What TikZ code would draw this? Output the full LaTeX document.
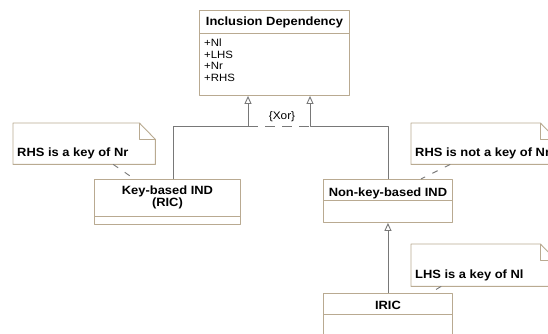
\documentclass[tikz,border=0pt]{standalone}
\usepackage{fontspec}
\setmainfont{Liberation Sans}[FakeStretch=1.08]
\usetikzlibrary{arrows.meta}
\definecolor{boxline}{RGB}{185,170,145}
\definecolor{connline}{RGB}{120,120,120}
\begin{document}
\begin{tikzpicture}[x=1bp, y=-1bp, line join=round,
		cls/.style={draw=boxline, fill=white, line width=0.9bp, inner sep=0pt, anchor=north west},
		hd/.style={font=\fontsize{12}{10}\selectfont\bfseries, align=center, inner sep=0pt},
		attr/.style={font=\fontsize{10.6}{11}\selectfont, anchor=base west, inner sep=0pt},
		notetxt/.style={font=\fontsize{12}{13}\selectfont\bfseries, anchor=base west, inner sep=0pt},
		noteline/.style={draw=boxline, fill=white, line width=0.9bp},
		gen/.style={draw=connline, line width=0.9bp, -{Triangle[open, length=8bp, width=7bp]}},
		link/.style={draw=connline, line width=0.9bp, dash pattern=on 6bp off 8bp}]
	\useasboundingbox (0,0) rectangle (548,333);
	\clip (0,0) rectangle (548,333);
	\fill[white] (0,0) rectangle (548,333);
	% classes
	\node[cls, minimum width=150bp, minimum height=85bp] (incl) at (199,10) {};
	\draw[draw=boxline, line width=0.9bp] (incl.north west) ++(0,23) -- ++(150,0);
	\node[hd, anchor=base] (inclT) at ([shift={(0,15)}]incl.north) {Inclusion Dependency};
	\foreach \a [count=\i] in {Nl,LHS,Nr,RHS}
		\node[attr] (attr\i) at ([shift={(5,25+11.5*\i)}]incl.north west) {+\a};
	\node[cls, minimum width=146bp, minimum height=45bp] (keyb) at (94,179) {};
	\draw[draw=boxline, line width=0.9bp] (keyb.north west) ++(0,37) -- ++(146,0);
	\node[hd] (keybT) at ([shift={(0,18.5)}]keyb.north) {Key-based IND\\(RIC)};
	\node[cls, minimum width=129bp, minimum height=43bp] (nonk) at (323,179) {};
	\draw[draw=boxline, line width=0.9bp] (nonk.north west) ++(0,21) -- ++(129,0);
	\node[hd, anchor=base] (nonkT) at ([shift={(0,17)}]nonk.north) {Non-key-based IND};
	\node[cls, minimum width=129bp, minimum height=60bp] (iric) at (323,293) {};
	\draw[draw=boxline, line width=0.9bp] (iric.north west) ++(0,21) -- ++(129,0);
	\node[hd, anchor=base] (iricT) at ([shift={(0,16.5)}]iric.north) {IRIC};
	% generalizations
	\coordinate (xorL) at (248,126);
	\coordinate (xorR) at (310,126);
	\draw[gen] ([shift={(6,0)}]keyb.north) |- (xorL) -- (xorL |- incl.south);
	\draw[gen] ([shift={(0.5,0)}]nonk.north) |- (xorR) -- (xorR |- incl.south);
	\draw[draw=connline, line width=0.9bp, dash pattern=on 10bp off 7bp] (xorL) -- (xorR)
		node[midway, above=1.5bp, xshift=3bp, font=\fontsize{11}{12}\selectfont, inner sep=2bp] (xor) {\{Xor\}};
	\draw[gen] (iric.north) -- (nonk.south);
	% notes
	\foreach \n/\x/\y/\w/\h/\t in {n1/13/123/142/41/{RHS is a key of Nr},
			n2/411/123/145/41/{RHS is not a key of Nr},
			n3/411/244/145/42/{LHS is a key of Nl}}
	{
		\node[inner sep=0pt, minimum width=\w bp, minimum height=\h bp, anchor=north west] (\n) at (\x,\y) {};
		\path[noteline] (\n.north east) ++(-16,0) -- (\n.north west) -- (\n.south west)
			-- (\n.south east) -- ++(0,-\h+16) -- cycle;
		\draw[boxline, line width=0.9bp] (\n.north east) ++(-16,0) -- ++(0,16) -- ++(16,0);
		\node[notetxt] (\n T) at ([shift={(4,-8)}]\n.south west) {\t};
	}
	\draw[link] ([shift={(29,0)}]n1.south) -- ([shift={(-33,0)}]keyb.north);
	\draw[link] ([shift={(-33.5,0)}]n2.south) -- ([shift={(33,0)}]nonk.north);
	\draw[link] ([shift={(-42.5,0)}]n3.south) -- ([shift={(42,0)}]iric.north);
\end{tikzpicture}
\end{document}
